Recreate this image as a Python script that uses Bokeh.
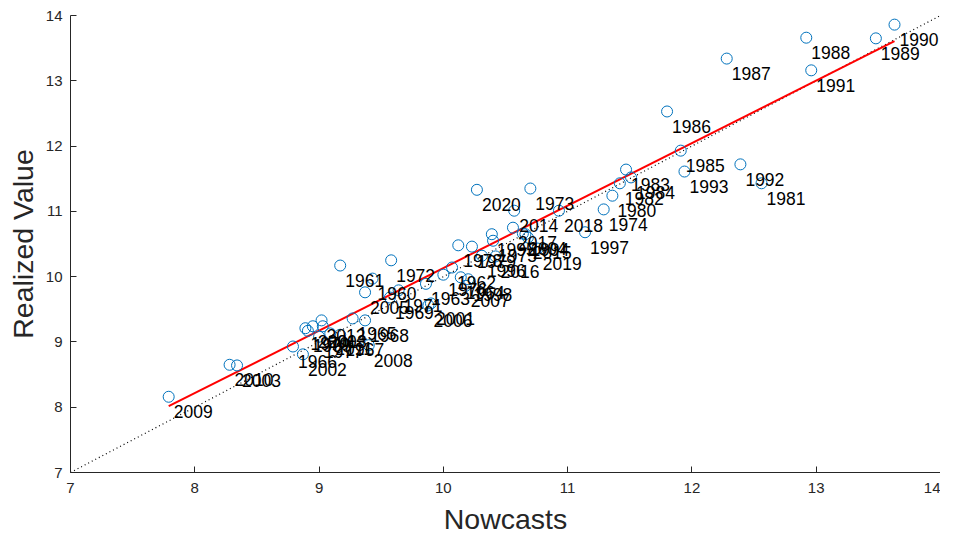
import numpy as np
from bokeh.plotting import figure
from bokeh.models import Range1d, FixedTicker, ColumnDataSource
from bokeh.core.properties import value
from bokeh.embed import file_html
from bokeh.resources import INLINE

years = list(range(1960, 2021))
nowcasts = [
    9.43, 9.17, 10.07, 9.86, 10.14, 9.27, 8.79, 9.17, 9.37, 9.57,   # 1960-1969
    8.89, 9.64, 9.58, 10.70, 11.29, 10.40, 10.00, 9.00, 10.12, 10.23,  # 1970-1979
    11.36, 12.56, 11.42, 11.47, 11.51, 11.91, 11.80, 12.28, 12.92, 13.48,  # 1980-1989
    13.63, 12.96, 12.39, 11.94, 10.66, 10.39, 10.31, 11.14, 10.20, 8.91,  # 1990-1999
    8.95, 9.90, 8.87, 8.34, 10.64, 9.37, 9.88, 10.18, 9.40, 7.79,  # 2000-2009
    8.28, 9.09, 9.02, 9.03, 10.57, 10.68, 10.42, 10.56, 10.93, 10.76,  # 2010-2019
    10.27,  # 2020
]
realized = [
    9.97, 10.17, 10.14, 9.89, 9.99, 9.36, 8.93, 9.11, 9.33, 9.68,
    9.21, 9.79, 10.25, 11.35, 11.03, 10.55, 10.03, 9.08, 10.48, 10.46,
    11.24, 11.43, 11.43, 11.64, 11.52, 11.93, 12.53, 13.34, 13.66, 13.65,
    13.86, 13.16, 11.72, 11.61, 10.65, 10.65, 10.32, 10.68, 9.96, 9.17,
    9.24, 9.59, 8.81, 8.64, 10.66, 9.76, 9.56, 9.86, 8.95, 8.16,
    8.65, 9.13, 9.33, 9.24, 11.01, 10.60, 10.31, 10.75, 11.01, 10.43,
    11.33,
]
ticks = [7, 8, 9, 10, 11, 12, 13, 14]

x = np.array(nowcasts)
y = np.array(realized)
slope, intercept = np.polyfit(x, y, 1)
xfit = np.array([x.min(), x.max()])
yfit = intercept + slope * xfit

FONT = "Liberation Sans"
DARK = "#262626"

p = figure(width=940, height=538, output_backend="svg", toolbar_location=None,
           x_range=Range1d(7, 14), y_range=Range1d(7, 14),
           min_border_left=70, min_border_right=0, min_border_top=15, min_border_bottom=66)
p.outline_line_color = None
p.grid.grid_line_color = None
p.background_fill_color = "white"
p.border_fill_color = "white"

# 45-degree line
p.line(ticks, ticks, line_color="black", line_dash="1 3", line_width=1.2)
# regression line
p.line(xfit, yfit, line_color="#FF0000", line_width=2)

src = ColumnDataSource(dict(x=x, y=y, label=[str(v) for v in years]))
p.scatter("x", "y", source=src, marker="circle", size=11, fill_color=None,
          line_color="#0072BD", line_width=1)
p.text("x", "y", text="label", source=src, x_offset=5, y_offset=15,
       text_align="left", text_baseline="middle", text_font=value(FONT),
       text_font_size="17.5px", text_color="black")

for ax in (p.xaxis[0], p.yaxis[0]):
    ax.ticker = FixedTicker(ticks=ticks)
    ax.minor_tick_line_color = None
    ax.major_tick_in = 6
    ax.major_tick_out = 0
    ax.axis_line_color = DARK
    ax.major_tick_line_color = DARK
    ax.major_label_text_color = DARK
    ax.major_label_text_font = FONT
    ax.major_label_text_font_size = "15px"
    ax.axis_label_text_font = FONT
    ax.axis_label_text_font_size = "28.5px"
    ax.axis_label_text_font_style = "normal"
    ax.axis_label_text_color = DARK

p.xaxis.axis_label = "Nowcasts"
p.yaxis.axis_label = "Realized Value"
p.xaxis.major_label_standoff = 10
p.yaxis.major_label_standoff = 8
p.xaxis.axis_label_standoff = 7
p.yaxis.axis_label_standoff = 4

open("out.html", "w").write(file_html(p, INLINE))
